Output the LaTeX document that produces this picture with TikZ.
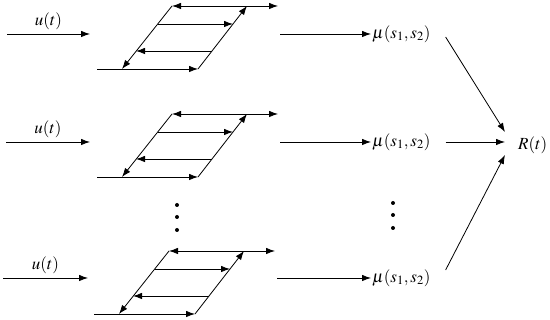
\documentclass[tikz,border=0pt]{standalone}
\usepackage{mathptmx}
\usepackage{tikz}
\usetikzlibrary{arrows.meta,calc}

\tikzset{
  arr/.style={line width=0.8pt,-{Latex[length=9pt,width=6.5pt]}},
  larr/.style={line width=0.8pt,{Latex[length=9pt,width=6.5pt]}-{Latex[length=9pt,width=6.5pt]}},
  lbl/.style={inner sep=1pt,font=\fontsize{17}{20}\selectfont}
}

\begin{document}
\begin{tikzpicture}[x=1pt,y=-1pt]
		\useasboundingbox (0,0) rectangle (550,320);
		%Hysteresis loops, one per row (x shift, y shift of top left corner)
		\foreach \dx/\dy/\n in {172/6/1,172/114/2,169/251/3} {
		\begin{scope}[shift={(\dx,\dy)}]
		\draw[arr] (-75,63)--(26,63);
		\draw[arr] (26,63)--(75,0);
		\draw[larr] (0,0)--(106,0);
		\draw[arr] (0,0)--(-50,63);
		\draw[arr] (-14,18)--(61,18);
		\draw[arr] (40,45)--(-36,45);
		\end{scope}
		}
		%Inputs
		\coordinate (in1) at (7,34);    \coordinate (to1) at (90,34);
		\coordinate (in2) at (6,142);   \coordinate (to2) at (90,142);
		\coordinate (in3) at (3,278);   \coordinate (to3) at (88,278);
		\draw[arr] (in1)--(to1) node[lbl,midway,above=3pt] (u1) {$u(t)$};
		\draw[arr] (in2)--(to2) node[lbl,midway,above=3pt] (u2) {$u(t)$};
		\draw[arr] (in3)--(to3) node[lbl,midway,above=3pt] (u3) {$u(t)$};
		%Outputs of the loops
		\node[lbl,anchor=west] (m1) at (371,34) {$\mu(s_1,s_2)$};
		\node[lbl,anchor=west] (m2) at (371,142) {$\mu(s_1,s_2)$};
		\node[lbl,anchor=west] (m3) at (371,278) {$\mu(s_1,s_2)$};
		\coordinate (o1) at (280,34);
		\coordinate (o2) at (280,142);
		\coordinate (o3) at (277,278);
		\draw[arr] (o1)--(m1.west);
		\draw[arr] (o2)--(m2.west);
		\draw[arr] (o3)--(m3.west);
		%Sum
		\node[lbl,anchor=west] (R) at (517,145) {$R(t)$};
		\draw[arr] ($(m1.east)+(14,3)$)--($(R.west)+(-12,-13)$);
		\draw[arr] ($(m2.east)+(14,0)$)--($(R.west)+(-12,-3)$);
		\draw[arr] ($(m3.east)+(14,-8)$)--($(R.west)+(-12,10)$);
		%Dots
		\foreach \y in {205,217,230} \fill (177,\y) circle (2);
		\foreach \y in {203,215,228} \fill (393,\y) circle (2);
\end{tikzpicture}
\end{document}
